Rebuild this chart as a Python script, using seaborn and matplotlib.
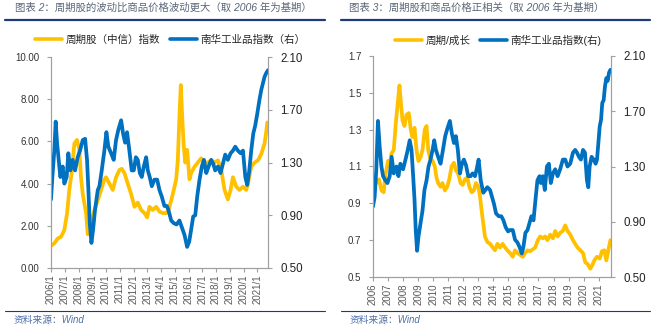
import matplotlib
matplotlib.use("Agg")
import matplotlib.pyplot as plt
from matplotlib.lines import Line2D
import pandas as pd
import seaborn as sns

# ---------------- left chart: CITIC cyclical index vs Nanhua industrial index ----------------
cyc_t = [2006.00, 2006.24, 2006.49, 2006.73, 2006.97, 2007.17, 2007.33, 2007.50, 2007.70, 2007.89,
         2008.06, 2008.18, 2008.31, 2008.55, 2008.67, 2008.91, 2009.16, 2009.40, 2009.64, 2009.88,
         2010.00, 2010.25, 2010.49, 2010.73, 2010.98, 2011.15, 2011.34, 2011.58, 2011.83, 2012.07,
         2012.31, 2012.55, 2012.80, 2012.99, 2013.16, 2013.40, 2013.65, 2013.89, 2014.13, 2014.37,
         2014.54, 2014.74, 2014.93, 2015.10, 2015.22, 2015.34, 2015.44, 2015.54, 2015.64, 2015.76,
         2015.90, 2016.07, 2016.19, 2016.44, 2016.68, 2016.92, 2017.17, 2017.41, 2017.65, 2017.89,
         2018.14, 2018.38, 2018.62, 2018.86, 2019.06, 2019.23, 2019.47, 2019.71, 2019.96, 2020.20,
         2020.32, 2020.56, 2020.81, 2021.05, 2021.29, 2021.53, 2021.66, 2021.73]
cyc_v = [1.05, 1.17, 1.40, 1.48, 1.80, 2.60, 3.70, 4.50, 5.90, 6.07,
         5.60, 4.30, 3.50, 2.60, 1.60, 2.10, 2.75, 3.20, 3.70, 4.20,
         4.30, 4.00, 3.70, 4.30, 4.65, 4.70, 4.50, 4.00, 3.50, 2.90,
         3.10, 2.75, 2.60, 2.40, 2.90, 2.75, 2.90, 2.67, 2.60, 2.60,
         2.75, 3.20, 3.70, 4.20, 5.10, 7.20, 8.67, 7.20, 5.90, 5.00,
         5.60, 4.20, 4.50, 4.80, 5.00, 5.20, 5.00, 5.00, 5.10, 5.00,
         5.10, 4.65, 3.70, 3.25, 3.70, 4.30, 3.85, 3.70, 3.85, 3.70,
         4.00, 4.80, 5.00, 5.10, 5.40, 5.90, 6.50, 6.90]

nh_a_t = [2006.00, 2006.10, 2006.24, 2006.34, 2006.44, 2006.56, 2006.68, 2006.85, 2006.97, 2007.14,
          2007.26, 2007.41, 2007.58, 2007.75, 2007.94, 2008.11, 2008.31, 2008.48, 2008.62, 2008.72,
          2008.82, 2008.94, 2009.06, 2009.20, 2009.40, 2009.52, 2009.69, 2009.88, 2010.03, 2010.17,
          2010.37, 2010.56, 2010.73, 2010.90, 2011.10, 2011.24, 2011.39, 2011.53, 2011.70, 2011.87,
          2012.02, 2012.17, 2012.31, 2012.46, 2012.60, 2012.75, 2012.92, 2013.04, 2013.18, 2013.33,
          2013.52, 2013.72, 2013.89, 2014.06, 2014.25, 2014.42, 2014.54, 2014.74, 2014.93, 2015.13,
          2015.34, 2015.51, 2015.71, 2015.90, 2016.05, 2016.19, 2016.34, 2016.49, 2016.63, 2016.80,
          2016.97, 2017.12, 2017.29, 2017.46, 2017.65, 2017.80, 2017.94, 2018.14, 2018.33, 2018.50,
          2018.67, 2018.86, 2019.06, 2019.23, 2019.40, 2019.59, 2019.79, 2019.96, 2020.13, 2020.27,
          2020.42, 2020.56, 2020.71, 2020.85, 2021.00, 2021.15, 2021.29, 2021.41, 2021.53, 2021.66,
          2021.78]
nh_a_v = [1.02, 1.19, 1.39, 1.61, 1.45, 1.32, 1.19, 1.27, 1.14, 1.19,
          1.37, 1.24, 1.32, 1.24, 1.34, 1.39, 1.47, 1.48, 1.32, 1.09,
          0.84, 0.69, 0.79, 0.94, 1.09, 1.12, 1.24, 1.39, 1.53, 1.42,
          1.37, 1.32, 1.47, 1.55, 1.62, 1.52, 1.45, 1.53, 1.39, 1.24,
          1.24, 1.34, 1.32, 1.22, 1.19, 1.27, 1.34, 1.24, 1.19, 1.12,
          1.17, 1.17, 1.09, 1.04, 0.97, 0.97, 0.94, 0.86, 0.84, 0.83,
          0.86, 0.81, 0.75, 0.66, 0.70, 0.79, 0.89, 0.90, 1.04, 1.17,
          1.27, 1.32, 1.22, 1.27, 1.32, 1.29, 1.24, 1.27, 1.22, 1.29,
          1.36, 1.32, 1.37, 1.39, 1.42, 1.39, 1.37, 1.39, 1.19, 1.13,
          1.24, 1.39, 1.52, 1.58, 1.67, 1.77, 1.85, 1.90, 1.95, 1.98,
          2.00]

# ---------------- right chart: cyclical/growth ratio vs Nanhua industrial index ----------------
ratio_t = [2006.00, 2006.11, 2006.22, 2006.40, 2006.56, 2006.71, 2006.84, 2007.00, 2007.11, 2007.22,
           2007.38, 2007.51, 2007.64, 2007.76, 2007.84, 2007.96, 2008.09, 2008.22, 2008.38, 2008.51,
           2008.62, 2008.76, 2008.89, 2009.02, 2009.16, 2009.29, 2009.44, 2009.56, 2009.67, 2009.78,
           2009.96, 2010.11, 2010.22, 2010.33, 2010.49, 2010.62, 2010.78, 2010.93, 2011.07, 2011.22,
           2011.38, 2011.51, 2011.67, 2011.82, 2011.96, 2012.11, 2012.27, 2012.40, 2012.56, 2012.71,
           2012.84, 2013.00, 2013.11, 2013.22, 2013.33, 2013.44, 2013.60, 2013.78, 2013.96, 2014.11,
           2014.27, 2014.44, 2014.62, 2014.78, 2014.93, 2015.11, 2015.29, 2015.44, 2015.60, 2015.78,
           2015.96, 2016.11, 2016.27, 2016.44, 2016.62, 2016.78, 2016.96, 2017.11, 2017.29, 2017.44,
           2017.60, 2017.78, 2017.96, 2018.11, 2018.27, 2018.44, 2018.62, 2018.78, 2018.93, 2019.11,
           2019.29, 2019.44, 2019.60, 2019.78, 2019.96, 2020.11, 2020.27, 2020.44, 2020.58, 2020.71,
           2020.89, 2021.07, 2021.22, 2021.38, 2021.51, 2021.64, 2021.78]
ratio_v = [1.03, 1.04, 1.01, 1.03, 0.97, 0.96, 1.06, 1.13, 1.10, 1.17,
           1.19, 1.33, 1.44, 1.54, 1.46, 1.35, 1.32, 1.38, 1.39, 1.30,
           1.26, 1.31, 1.19, 1.13, 1.15, 1.19, 1.30, 1.32, 1.19, 1.15,
           1.13, 1.10, 1.04, 1.01, 0.99, 1.01, 0.97, 0.99, 1.03, 1.10,
           1.12, 1.08, 1.06, 1.01, 1.00, 1.03, 1.04, 0.99, 0.96, 0.97,
           1.01, 0.99, 0.94, 0.86, 0.79, 0.72, 0.69, 0.68, 0.66, 0.645,
           0.68, 0.66, 0.68, 0.66, 0.645, 0.63, 0.61, 0.645, 0.63, 0.62,
           0.61, 0.63, 0.645, 0.64, 0.65, 0.66, 0.70, 0.72, 0.71, 0.72,
           0.70, 0.73, 0.71, 0.75, 0.72, 0.74, 0.75, 0.78, 0.75, 0.73,
           0.70, 0.68, 0.66, 0.645, 0.63, 0.58, 0.57, 0.545, 0.565, 0.59,
           0.61, 0.60, 0.64, 0.645, 0.59, 0.645, 0.70]

nh_b_t = [2006.00, 2006.11, 2006.22, 2006.33, 2006.44, 2006.56, 2006.67, 2006.82, 2006.96, 2007.11,
          2007.24, 2007.38, 2007.56, 2007.69, 2007.82, 2008.00, 2008.16, 2008.31, 2008.44, 2008.56,
          2008.67, 2008.76, 2008.84, 2008.93, 2009.02, 2009.16, 2009.29, 2009.42, 2009.56, 2009.69,
          2009.82, 2009.96, 2010.07, 2010.18, 2010.33, 2010.49, 2010.62, 2010.80, 2010.93, 2011.11,
          2011.24, 2011.38, 2011.51, 2011.64, 2011.78, 2011.91, 2012.04, 2012.18, 2012.33, 2012.49,
          2012.62, 2012.78, 2012.89, 2013.02, 2013.16, 2013.33, 2013.47, 2013.60, 2013.78, 2013.91,
          2014.04, 2014.18, 2014.36, 2014.53, 2014.67, 2014.82, 2014.98, 2015.11, 2015.29, 2015.44,
          2015.60, 2015.73, 2015.89, 2016.00, 2016.13, 2016.27, 2016.40, 2016.53, 2016.67, 2016.80,
          2016.93, 2017.07, 2017.16, 2017.29, 2017.42, 2017.56, 2017.69, 2017.82, 2017.96, 2018.11,
          2018.27, 2018.44, 2018.62, 2018.78, 2018.93, 2019.11, 2019.29, 2019.44, 2019.56, 2019.69,
          2019.82, 2019.96, 2020.09, 2020.22, 2020.31, 2020.40, 2020.53, 2020.67, 2020.80, 2020.89,
          2020.98, 2021.07, 2021.16, 2021.24, 2021.33, 2021.42, 2021.51, 2021.60, 2021.69, 2021.78]
nh_b_v = [1.01, 1.08, 1.28, 1.63, 1.45, 1.30, 1.23, 1.20, 1.18, 1.23,
          1.37, 1.25, 1.30, 1.23, 1.32, 1.28, 1.35, 1.42, 1.49, 1.42,
          1.23, 1.06, 0.84, 0.69, 0.79, 0.89, 0.98, 1.13, 1.20, 1.30,
          1.35, 1.42, 1.49, 1.42, 1.37, 1.32, 1.40, 1.52, 1.57, 1.63,
          1.54, 1.47, 1.52, 1.42, 1.25, 1.32, 1.35, 1.31, 1.23, 1.23,
          1.25, 1.23, 1.28, 1.35, 1.20, 1.11, 1.13, 1.15, 1.13, 1.08,
          1.03, 0.96, 0.94, 0.94, 0.91, 0.86, 0.83, 0.84, 0.84, 0.77,
          0.75, 0.72, 0.67, 0.72, 0.82, 0.84, 0.89, 0.94, 0.91, 1.06,
          1.20, 1.23, 1.18, 1.23, 1.13, 1.30, 1.32, 1.18, 1.25, 1.28,
          1.23, 1.28, 1.35, 1.35, 1.30, 1.32, 1.40, 1.42, 1.40, 1.37,
          1.35, 1.42, 1.40, 1.20, 1.15, 1.30, 1.37, 1.35, 1.32, 1.35,
          1.47, 1.59, 1.64, 1.76, 1.78, 1.88, 1.94, 1.92, 1.98, 2.00]

years = list(range(2006, 2022))
left_xlabels = [f"{y}/1" for y in years]
right_xlabels = [str(y) for y in years]

left_yticks = [0, 2, 4, 6, 8, 10]
nh_yticks = [0.5, 0.9, 1.3, 1.7, 2.1]
ratio_yticks = [0.5, 0.7, 0.9, 1.1, 1.3, 1.5, 1.7]

left_title = "图表 2：周期股的波动比商品价格波动更大（取 2006 年为基期）"
right_title = "图表 3：周期股和商品价格正相关（取 2006 年为基期）"
left_labels = ["周期股（中信）指数", "南华工业品指数（右）"]
right_labels = ["周期/成长", "南华工业品指数(右)"]
source = "资料来源：Wind"

YELLOW = "#FFC000"
BLUE = "#0070C0"
NAVY = "#1F3A78"
SPINE = "#A0A0A0"
TITLE_C = "#5A6678"
SOURCE_C = "#4F6FA8"
LW = 2.7

sns.set_theme(style="white")
plt.rcParams["font.family"] = ["Liberation Sans", "Noto Sans CJK SC"]

W, H = 655, 330
fig = plt.figure(figsize=(W / 100, H / 100), dpi=100)


def fx(px):
    return px / W


def fy(py):
    return 1 - py / H


def panel(rect, df_l, df_r, xlim, ylim_l, yt_l, fmt_l, size_l, xlabels):
    ax = fig.add_axes(rect)
    sns.lineplot(data=df_l, x="t", y="v", ax=ax, color=YELLOW, lw=LW,
                 estimator=None, sort=False, legend=False)
    tw = ax.twinx()
    sns.lineplot(data=df_r, x="t", y="v", ax=tw, color=BLUE, lw=LW,
                 estimator=None, sort=False, legend=False)
    ax.set_xlim(*xlim)
    ax.set_ylim(*ylim_l)
    tw.set_ylim(0.5, 2.1)
    ax.set_xticks(years)
    ax.set_xticklabels(xlabels, rotation=90)
    ax.set_yticks(yt_l)
    ax.set_yticklabels([fmt_l.format(v) for v in yt_l])
    tw.set_yticks(nh_yticks)
    tw.set_yticklabels([f"{v:.2f}" for v in nh_yticks])
    for a in (ax, tw):
        a.set_xlabel("")
        a.set_ylabel("")
        a.spines["top"].set_visible(False)
        for s in ("left", "right", "bottom"):
            a.spines[s].set_color(SPINE)
            a.spines[s].set_linewidth(0.8)
    ax.tick_params(axis="x", bottom=True, direction="out", length=3, width=0.8,
                   color=SPINE, pad=1.5, labelsize=7, labelcolor="#595959")
    ax.tick_params(axis="y", left=True, direction="out", length=3, width=0.8,
                   color=SPINE, pad=5.5, labelsize=size_l, labelcolor="#333333")
    tw.tick_params(axis="y", right=True, direction="out", length=3, width=0.8,
                   color=SPINE, pad=6, labelsize=8.3, labelcolor="#222222")
    return ax


df_cyc = pd.DataFrame({"t": cyc_t, "v": cyc_v})
df_nh_a = pd.DataFrame({"t": nh_a_t, "v": nh_a_v})
df_ratio = pd.DataFrame({"t": ratio_t, "v": ratio_v})
df_nh_b = pd.DataFrame({"t": nh_b_t, "v": nh_b_v})

panel([fx(51), fy(268), fx(217), 211 / H], df_cyc, df_nh_a,
      (2006, 2021.78), (0, 10), left_yticks, "{:.2f}", 7, left_xlabels)
panel([fx(373), fy(277), fx(238), 221 / H], df_ratio, df_nh_b,
      (2006, 2021.82), (0.5, 1.7), ratio_yticks, "{:.1f}", 7, right_xlabels)

# legends
for labels, cx in ((left_labels, 170), (right_labels, 498)):
    handles = [Line2D([], [], color=YELLOW, lw=2.6), Line2D([], [], color=BLUE, lw=2.6)]
    fig.legend(handles, labels, loc="center", bbox_to_anchor=(fx(cx), fy(40)),
               ncol=2, frameon=False, fontsize=7.6, handlelength=2.6,
               handletextpad=0.3, columnspacing=0.9, labelcolor="#262626")

# titles, rules and source notes
fig.text(fx(15), fy(8), left_title, fontsize=7.5, color=TITLE_C, style="italic",
         ha="left", va="center")
fig.text(fx(349), fy(8), right_title, fontsize=7.5, color=TITLE_C, style="italic",
         ha="left", va="center")
for x0, x1 in ((5, 325), (341, 650)):
    fig.add_artist(Line2D([fx(x0), fx(x1)], [fy(19.5)] * 2, transform=fig.transFigure,
                          color=NAVY, lw=1.6))
    fig.add_artist(Line2D([fx(x0), fx(x1)], [fy(311)] * 2, transform=fig.transFigure,
                          color=NAVY, lw=0.8))
fig.text(fx(14), fy(319.5), source, fontsize=7, color=SOURCE_C, style="italic",
         ha="left", va="center")
fig.text(fx(350), fy(319.5), source, fontsize=7, color=SOURCE_C, style="italic",
         ha="left", va="center")

fig.savefig("out.png", dpi=100)
